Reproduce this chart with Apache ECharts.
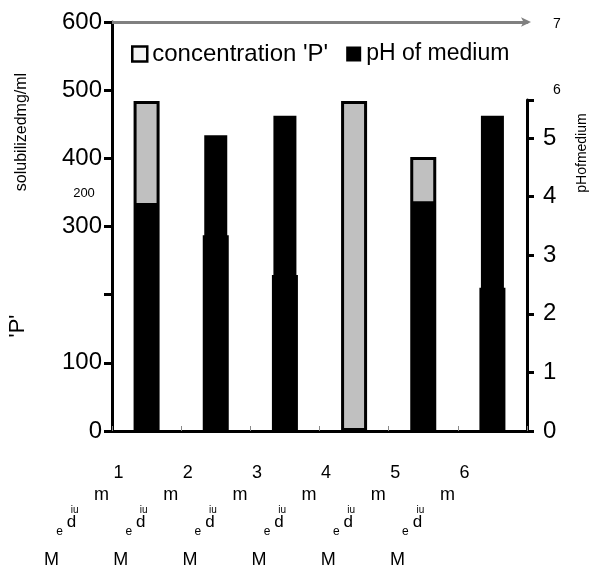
<!DOCTYPE html>
<html><head><meta charset="utf-8">
<script src="https://cdn.jsdelivr.net/npm/echarts@6/dist/echarts.min.js"></script>
<style>html,body{margin:0;padding:0;background:#fff}#c{width:589px;height:569px}</style>
</head><body><div id="c"></div>
<script>
// ---- data ----
const categories = ['1', '2', '3', '4', '5', '6'];
const concentrationP = [484, 287, 229, 484, 402, 210];
const phOfMedium = [3.89, 5.05, 5.38, null, 3.92, 5.38];
const hiddenLeftLabels = [200];
const strayLeftLabel = '200';
const extraRightLabels = ['6', '7'];
// garbled category-label fragments (one row per entry, null = category name)
const labelRowTexts = [null, 'm', 'iu', 'd', 'e', 'M'];
const seriesNames = ["concentration 'P'", 'pH of medium'];
const leftTitle = ['solubilizedmg/ml', "'P'"];
const rightTitle = 'pHofmedium';

// ---- styles ----
const FONT = '"Liberation Sans", Arial, sans-serif';
const rowStyles = [
  { dx: -28, dy: 42, size: 18 },
  { dx: -45, dy: 64, size: 18 },
  { dx: -72, dy: 79, size: 10 },
  { dx: -75, dy: 91, size: 17 },
  { dx: -87, dy: 101, size: 12 },
  { dx: -95, dy: 129, size: 18 }
];

const chart = echarts.init(document.getElementById('c'));

const xAxes = [
  { type: 'category', data: categories, gridIndex: 0, position: 'bottom',
    axisLine: { onZero: false, lineStyle: { color: '#000', width: 3 } },
    axisTick: { show: true, inside: true, length: 5, lineStyle: { color: '#888', width: 1 } },
    axisLabel: { show: false }, splitLine: { show: false } },
  { type: 'category', data: categories, gridIndex: 1, show: false },
  { type: 'category', data: categories, gridIndex: 0, position: 'top',
    axisLine: { onZero: false, lineStyle: { color: '#808080', width: 3 },
      symbol: ['none', 'arrow'], symbolSize: [7, 10], symbolOffset: [0, 4] },
    axisTick: { show: false }, axisLabel: { show: false }, splitLine: { show: false } }
];
labelRowTexts.forEach((t, i) => {
  const r = rowStyles[i];
  xAxes.push({
    type: 'category', data: categories, gridIndex: 0, position: 'bottom',
    axisLine: { show: false, onZero: false }, axisTick: { show: false }, splitLine: { show: false },
    axisLabel: {
      show: true, interval: 0, margin: r.dy, verticalAlign: 'middle', align: 'center',
      padding: [0, -2 * r.dx, 0, 0],
      fontSize: r.size, fontFamily: FONT, color: '#000',
      formatter: v => (t === null ? v : t)
    }
  });
});

const option = {
  animation: false,
  backgroundColor: '#fff',
  grid: [
    { left: 112, right: 62, top: 22, bottom: 138 },
    { left: 112, right: 62, top: 100, bottom: 138 }
  ],
  legend: {
    left: 126, top: 37, itemWidth: 15, itemHeight: 15, itemGap: 18, icon: 'rect',
    textStyle: { fontSize: 23, fontFamily: FONT, color: '#000' },
    data: [
      { name: seriesNames[0], icon: 'rect',
        itemStyle: { color: '#f4f4f4', borderColor: '#000', borderWidth: 2.5 },
        textStyle: { fontSize: 24 } },
      { name: seriesNames[1], icon: 'rect', itemStyle: { color: '#000', borderWidth: 0 },
        textStyle: { fontSize: 23 } }
    ]
  },
  xAxis: xAxes,
  yAxis: [
    { type: 'value', gridIndex: 0, position: 'left', min: 0, max: 600, interval: 100,
      axisLine: { show: true, lineStyle: { color: '#000', width: 3 } },
      axisTick: { show: true, length: 8, lineStyle: { color: '#000', width: 3 } },
      axisLabel: { fontSize: 24, color: '#000', fontFamily: FONT, margin: 10,
        formatter: v => (hiddenLeftLabels.includes(v) ? '' : String(v)) },
      splitLine: { show: false } },
    { type: 'value', gridIndex: 1, position: 'right', min: 0, max: 5.65, interval: 1,
      axisLine: { show: true, lineStyle: { color: '#000', width: 3 } },
      axisTick: { show: true, length: 7, lineStyle: { color: '#000', width: 3 } },
      axisLabel: { fontSize: 24, color: '#000', fontFamily: FONT, margin: 16,
        formatter: v => (Number.isInteger(v) ? String(v) : '') },
      splitLine: { show: false } }
  ],
  series: [
    { name: seriesNames[0], type: 'bar', xAxisIndex: 0, yAxisIndex: 0, barWidth: 26, z: 2,
      itemStyle: { color: '#c0c0c0', borderColor: '#000', borderWidth: 3 },
      data: concentrationP },
    { name: seriesNames[1], type: 'bar', xAxisIndex: 1, yAxisIndex: 1, barWidth: 23, z: 3,
      itemStyle: { color: '#000' },
      data: phOfMedium }
  ],
  graphic: [
    { type: 'text', x: 22, y: 132, rotation: Math.PI / 2,
      style: { text: leftTitle[0], fontSize: 16, fontFamily: FONT, fill: '#000', align: 'center', verticalAlign: 'middle' } },
    { type: 'text', x: 18, y: 326, rotation: Math.PI / 2,
      style: { text: leftTitle[1], fontSize: 22, fontFamily: FONT, fill: '#000', align: 'center', verticalAlign: 'middle' } },
    { type: 'text', x: 582, y: 153, rotation: Math.PI / 2,
      style: { text: rightTitle, fontSize: 14, fontFamily: FONT, fill: '#000', align: 'center', verticalAlign: 'middle' } },
    { type: 'text', x: 84, y: 193,
      style: { text: strayLeftLabel, fontSize: 13, fontFamily: FONT, fill: '#000', align: 'center', verticalAlign: 'middle' } },
    { type: 'text', x: 557, y: 90,
      style: { text: extraRightLabels[0], fontSize: 14, fontFamily: FONT, fill: '#000', align: 'center', verticalAlign: 'middle' } },
    { type: 'text', x: 557, y: 24,
      style: { text: extraRightLabels[1], fontSize: 14, fontFamily: FONT, fill: '#000', align: 'center', verticalAlign: 'middle' } }
  ]
};
chart.setOption(option);
</script>
</body></html>
